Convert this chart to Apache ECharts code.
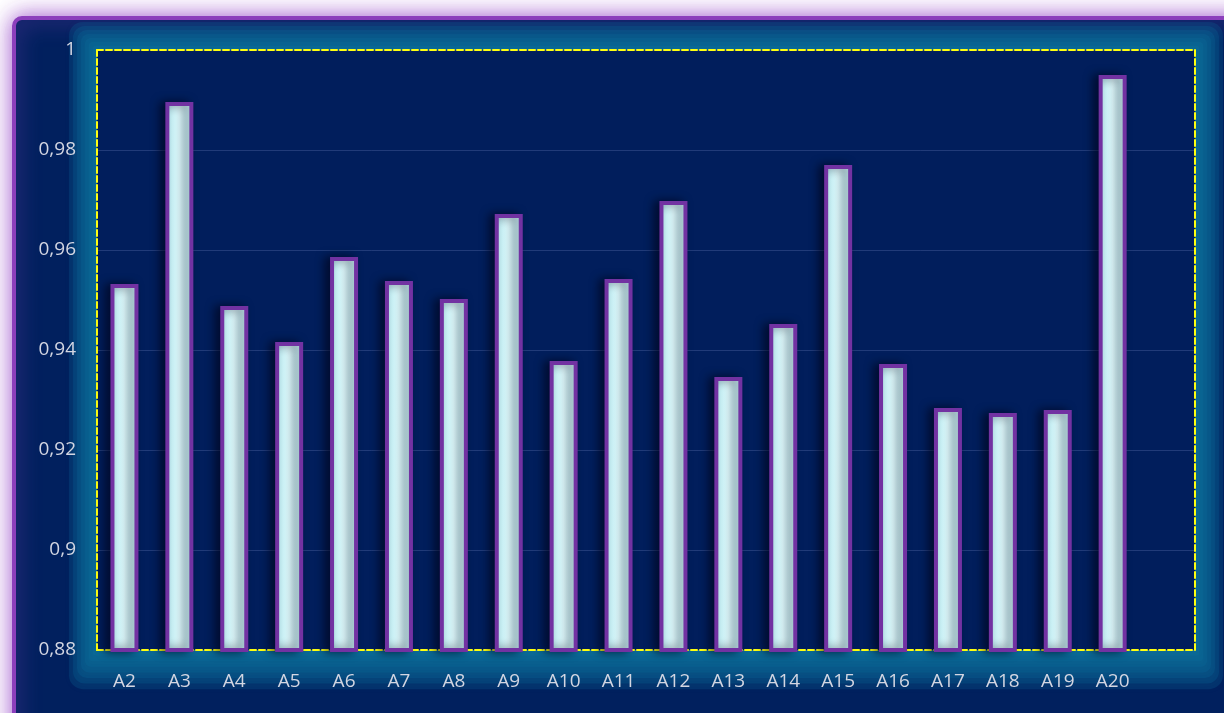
<!DOCTYPE html>
<html>
<head>
<meta charset="utf-8">
<script src="https://cdn.jsdelivr.net/npm/echarts@6/dist/echarts.min.js"></script>
<style>
  html, body { margin: 0; padding: 0; background: #ffffff; }
  #main { width: 1224px; height: 713px; }
</style>
</head>
<body>
<div id="main"></div>
<script>
const categories = ['A2', 'A3', 'A4', 'A5', 'A6', 'A7', 'A8', 'A9', 'A10', 'A11',
  'A12', 'A13', 'A14', 'A15', 'A16', 'A17', 'A18', 'A19', 'A20', '']
const values = [0.9532, 0.9896, 0.9488, 0.9416, 0.9586, 0.9538, 0.9502, 0.9672, 0.9378, 0.9542,
  0.9698, 0.9346, 0.9452, 0.977, 0.9372, 0.9284, 0.9274, 0.928, 0.995]
const yMin = 0.88
const yMax = 1
const yStep = 0.02

const chart = echarts.init(document.getElementById('main'))

const fmt = v => parseFloat(v.toFixed(2)).toString().replace('.', ',')
const dashed = { show: true, lineStyle: { color: '#ffff10', width: 2, type: [6, 3] } }
const labelColor = '#d3d6e2'
const font = '"Open Sans", "Noto Sans", sans-serif'

// plot frame, shared by the grid and the glow behind it
const plot = { left: 97, top: 50, right: 29, bottom: 63 }
const plotW = 1224 - plot.left - plot.right
const plotH = 713 - plot.top - plot.bottom

// soft teal glow: stacked translucent rects, growing outwards
const glow = []
for (let i = 1; i <= 7; i++) {
  const d = i * 4
  glow.push({
    type: 'rect',
    left: plot.left - d,
    top: plot.top - d,
    shape: { width: plotW + 2 * d, height: plotH + d * 2.4, r: d / 2 },
    style: {
      fill: 'rgba(14,120,165,0.2)',
      shadowColor: 'rgba(14,120,165,0.2)',
      shadowBlur: 6
    },
    z: -5
  })
}

const option = {
  backgroundColor: 'transparent',
  graphic: [{
    type: 'rect',
    left: 12,
    top: 16,
    shape: { width: 1260, height: 760, r: 8 },
    style: {
      fill: '#01205e',
      stroke: '#8c3fbc',
      lineWidth: 4,
      shadowColor: 'rgba(150,70,200,0.9)',
      shadowBlur: 22
    },
    z: -10
  }, ...glow],
  grid: {
    ...plot,
    show: true,
    backgroundColor: '#011e5c',
    borderWidth: 0
  },
  xAxis: [{
    type: 'category',
    data: categories,
    axisLine: dashed,
    axisTick: { show: false },
    axisLabel: { color: labelColor, fontSize: 19, fontFamily: font, margin: 22 }
  }, {
    type: 'category',
    position: 'top',
    data: categories,
    axisLine: dashed,
    axisTick: { show: false },
    axisLabel: { show: false }
  }],
  yAxis: [{
    type: 'value',
    min: yMin,
    max: yMax,
    interval: yStep,
    axisLine: dashed,
    axisTick: { show: false },
    splitLine: { lineStyle: { color: 'rgba(110,130,190,0.3)', width: 1 } },
    axisLabel: { color: labelColor, fontSize: 19, fontFamily: font, margin: 21, formatter: fmt }
  }, {
    type: 'value',
    position: 'right',
    min: yMin,
    max: yMax,
    interval: yStep,
    axisLine: dashed,
    axisTick: { show: false },
    splitLine: { show: false },
    axisLabel: { show: false }
  }],
  series: [{
    type: 'bar',
    data: values,
    barWidth: 28,
    itemStyle: {
      color: {
        type: 'linear', x: 0, y: 0, x2: 1, y2: 0,
        colorStops: [
          { offset: 0, color: '#b8ecf3' },
          { offset: 0.5, color: '#ddf8fb' },
          { offset: 1, color: '#c2eff5' }
        ]
      },
      borderColor: '#7232a2',
      borderWidth: 4,
      shadowColor: 'rgba(0,0,20,0.6)',
      shadowBlur: 10,
      shadowOffsetX: -5
    }
  }]
}

chart.setOption(option)
</script>
</body>
</html>
